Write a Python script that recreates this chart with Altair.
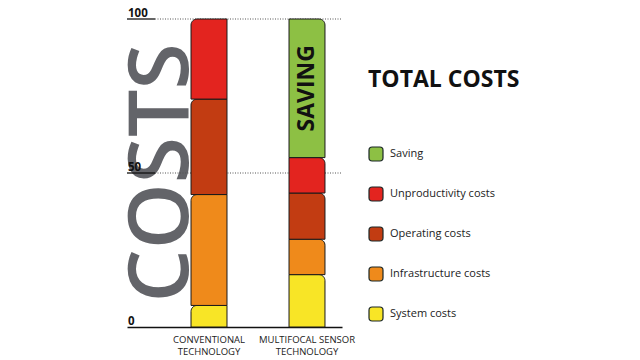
import altair as alt
import pandas as pd

technologies = ["CONVENTIONAL|TECHNOLOGY", "MULTIFOCAL SENSOR|TECHNOLOGY"]
categories = ["System costs", "Infrastructure costs", "Operating costs", "Unproductivity costs", "Saving"]
conventional = [7, 36, 31, 26, 0]
multifocal = [17, 11.5, 15, 11.5, 45]
legend_order = ["Saving", "Unproductivity costs", "Operating costs", "Infrastructure costs", "System costs"]
colors = ["#8dc044", "#e3241f", "#c23c12", "#ef8a1b", "#f8e526"]
y_ticks = [0, 50, 100]
grid_levels = [50, 100]

rows = []
for tech, vals in zip(technologies, [conventional, multifocal]):
    for i, (c, v) in enumerate(zip(categories, vals)):
        rows.append({"tech": tech, "category": c, "value": v, "order": i})
df = pd.DataFrame(rows)

FONT = "Open Sans"
yscale = alt.Scale(domain=[0, 100], nice=False, zero=True)

X = alt.X(
    "tech:N",
    sort=technologies,
    scale=alt.Scale(paddingInner=0.633, paddingOuter=0.4135, align=0.79),
    axis=alt.Axis(
        title=None, labelAngle=0, labelExpr="split(datum.value, '|')",
        labelFont=FONT, labelFontSize=9.5, labelColor="#222", labelLineHeight=12,
        labelPadding=7, ticks=False, domainColor="#111", domainWidth=1.3,
        grid=False,
    ),
)

rounded_square = ("M -0.55 -1 L 0.55 -1 Q 1 -1 1 -0.55 L 1 0.55 Q 1 1 0.55 1 "
                  "L -0.55 1 Q -1 1 -1 0.55 L -1 -0.55 Q -1 -1 -0.55 -1 Z")

legend = alt.Legend(
    title="TOTAL COSTS", orient="none", legendX=241, legendY=50, padding=0,
    titleFont=FONT, titleFontSize=23, titleFontWeight="bold", titleColor="#111",
    titlePadding=54, titleBaseline="top",
    labelFont=FONT, labelFontSize=11, labelColor="#222", labelOffset=6,
    symbolType=rounded_square, symbolSize=196, symbolStrokeColor="#1a2626",
    symbolStrokeWidth=1.2, symbolOpacity=1, rowPadding=20,
)
COLOR = alt.Color("category:N", scale=alt.Scale(domain=legend_order, range=colors), legend=legend)

base = alt.Chart(df).transform_filter("datum.value > 0").transform_stack(
    stack="value", groupby=["tech"], as_=["y0", "y1"], sort=[alt.SortField("order")]
)

bars_conv = base.transform_filter(alt.datum.tech == technologies[0]).mark_bar(
    cornerRadiusTopLeft=6, stroke="#1a1a1a", strokeWidth=1
).encode(x=X, y=alt.Y("y1:Q", scale=yscale, axis=None), y2="y0:Q", color=COLOR)

bars_multi = base.transform_filter(alt.datum.tech == technologies[1]).mark_bar(
    cornerRadiusTopRight=6, stroke="#1a1a1a", strokeWidth=1
).encode(x=X, y=alt.Y("y1:Q", scale=yscale, axis=None), y2="y0:Q", color=COLOR)

saving_text = base.transform_filter(alt.datum.category == "Saving").transform_calculate(
    mid="(datum.y0 + datum.y1) / 2", label="upper(datum.category)"
).mark_text(angle=270, font=FONT, fontSize=23, fontWeight="bold", color="#111",
            align="center", baseline="middle").encode(
    x=X, y=alt.Y("mid:Q", scale=yscale, axis=None), text="label:N"
)

costs_text = alt.Chart(pd.DataFrame({"t": ["COSTS"]})).mark_text(
    angle=270, fontSize=84, font=FONT, fontWeight=600, color="#636469",
    align="center", baseline="alphabetic"
).encode(text="t:N", x=alt.value(61), y=alt.value(154))

levels = pd.DataFrame({"v": grid_levels})
dotted = alt.Chart(levels).mark_rule(color="#555", strokeWidth=1, strokeDash=[1, 1.5]).encode(
    y=alt.Y("v:Q", scale=yscale, axis=None), x=alt.value(28), x2=alt.value(215)
)
underline = alt.Chart(levels).mark_rule(color="#111", strokeWidth=1.3).encode(
    y=alt.Y("v:Q", scale=yscale, axis=None), x=alt.value(0), x2=alt.value(28)
)
tick_labels = alt.Chart(pd.DataFrame({"v": y_ticks})).mark_text(
    font=FONT, fontSize=11.5, fontWeight="bold", color="#111", align="left",
    baseline="alphabetic", dy=-2
).encode(y=alt.Y("v:Q", scale=yscale, axis=None), x=alt.value(1), text="v:Q")

chart = alt.layer(
    costs_text, dotted, underline, tick_labels, bars_conv, bars_multi, saving_text
).properties(
    width=215, height=308,
    autosize=alt.AutoSizeParams(type="none"),
    padding={"left": 119, "top": 11, "right": 290, "bottom": 33},
).configure_view(stroke=None)

chart.save("out.html", embed_options={"renderer": "svg", "actions": False})
